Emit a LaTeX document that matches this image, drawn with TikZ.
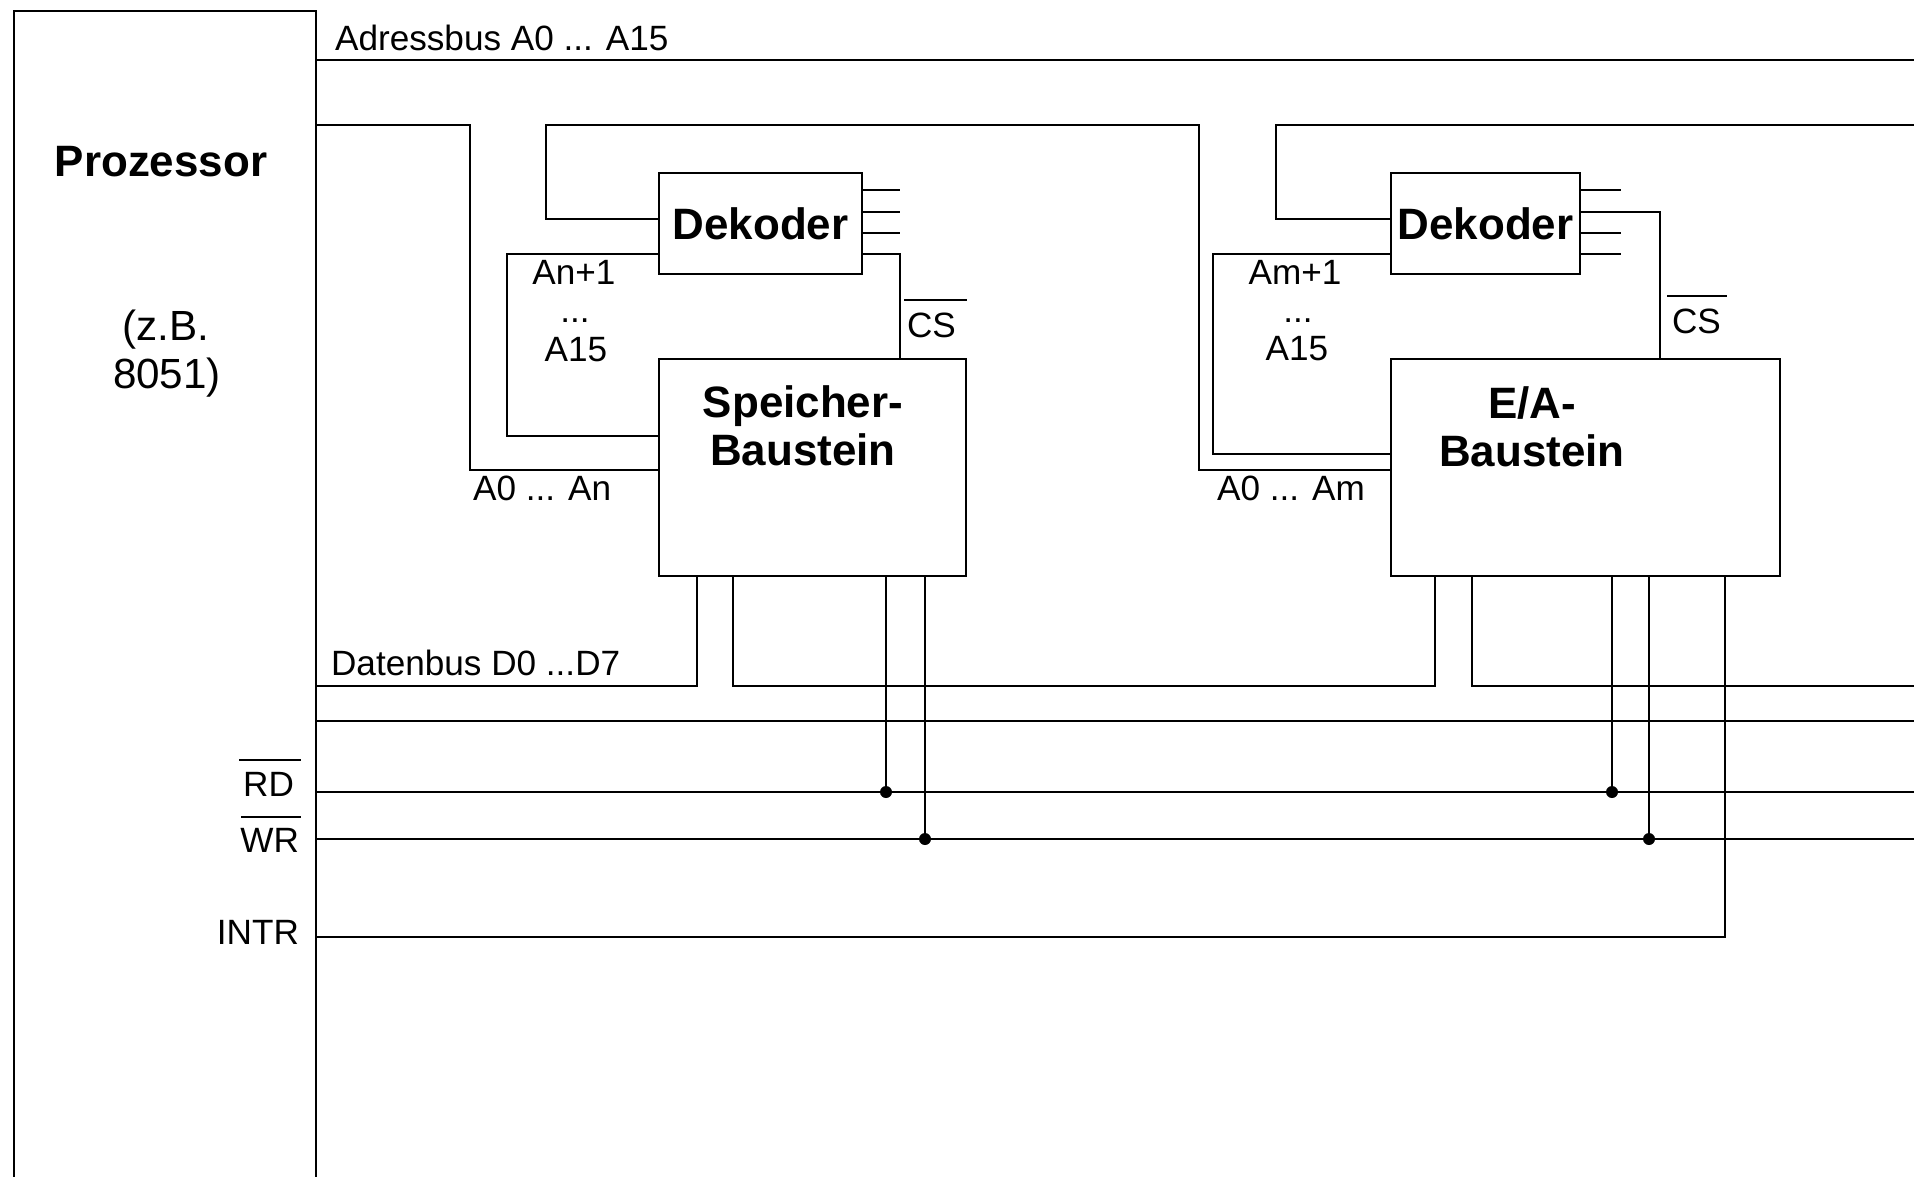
\documentclass[tikz,border=0pt]{standalone}
\usepackage{fontspec}
\setmainfont{Liberation Sans}
\begin{document}
\begin{tikzpicture}[x=0.1mm,y=-0.1mm, line width=0.22mm,
  box/.style={draw, rectangle, inner sep=0pt, anchor=north west},
  lbl/.style={inner sep=0pt, font=\fontsize{10}{12}\selectfont},
  big/.style={inner sep=0pt, font=\fontsize{12.5}{15}\selectfont\bfseries},
  mid/.style={inner sep=0pt, font=\fontsize{12}{14}\selectfont},
  jdot/.style={circle, fill, inner sep=0pt, minimum size=1.2mm}]
\useasboundingbox (0,0) rectangle (1914,1176);

% reference coordinates
\coordinate (yAB) at (0,60);
\coordinate (yA2) at (0,125);
\coordinate (yDin) at (0,219);
\coordinate (yHi) at (0,254);
\coordinate (yCS2) at (0,212);
\coordinate (yLoS) at (0,436);
\coordinate (yLoE) at (0,454);
\coordinate (yA0) at (0,470);
\coordinate (yDB) at (0,686);
\coordinate (yDB2) at (0,721);
\coordinate (yRD) at (0,792);
\coordinate (yWR) at (0,839);
\coordinate (yINT) at (0,937);
\coordinate (xR) at (1914,0);
\coordinate (xcs1) at (900,0);
\coordinate (xcs2) at (1660,0);
\coordinate (x697) at (697,0);
\coordinate (x733) at (733,0);
\coordinate (x1435) at (1435,0);
\coordinate (x1472) at (1472,0);
\coordinate (x1725) at (1725,0);

% boxes
\node[box, minimum width=30.2mm, minimum height=125mm] (proc) at (13,10) {};
\node[big, anchor=base] (pt) at (161,176) {Prozessor};
\node[mid, anchor=base] (pz1) at (166,340) {(z.B.};
\node[mid, anchor=base] (pz2) at (167,388) {8051)};

\node[box, big, minimum width=20.3mm, minimum height=10.1mm] (dek1) at (658,172) {Dekoder};
\node[box, minimum width=30.7mm, minimum height=21.7mm] (sp) at (658,358) {};
\node[big, anchor=base] (spt1) at (803,417) {Speicher-};
\node[big, anchor=base] (spt2) at (803,465) {Baustein};

\node[box, big, minimum width=18.9mm, minimum height=10.1mm] (dek2) at (1390,172) {Dekoder};
\node[box, minimum width=38.9mm, minimum height=21.7mm] (ea) at (1390,358) {};
\node[big, anchor=base] (eat1) at (1532,418) {E/A-};
\node[big, anchor=base] (eat2) at (1532,466) {Baustein};

% labels
\node[lbl, anchor=base west] (lab) at (334,50) {Adressbus A0 ... A15};
\node[lbl, anchor=base west] (la0n) at (472,500) {A0 ... An};
\node[lbl, anchor=base] (lan1) at (574,284) {An+1};
\node[lbl, anchor=base] (ldots1) at (575,322) {...};
\node[lbl, anchor=base] (la151) at (576,361) {A15};
\node[lbl, anchor=base west] (lcs1) at (906,337) {CS};
\draw ([shift={(-2,-11)}]lcs1.north west) -- ([shift={(10,-11)}]lcs1.north east);

\node[lbl, anchor=base] (lam1) at (1295,284) {Am+1};
\node[lbl, anchor=base] (ldots2) at (1298,322) {...};
\node[lbl, anchor=base] (la152) at (1297,360) {A15};
\node[lbl, anchor=base west] (la0m) at (1216,500) {A0 ... Am};
\node[lbl, anchor=base west] (lcs2) at (1671,333) {CS};
\draw ([shift={(-4,-11)}]lcs2.north west) -- ([shift={(5,-11)}]lcs2.north east);

\node[lbl, anchor=base west] (ldb) at (330,675) {Datenbus D0 ...D7};
\node[lbl, anchor=base east] (lrd) at (295,796) {RD};
\draw ([shift={(-3,-11)}]lrd.north west) -- ([shift={(6,-11)}]lrd.north east);
\node[lbl, anchor=base east] (lwr) at (300,852) {WR};
\draw ([shift={(2,-10)}]lwr.north west) -- ([shift={(1,-10)}]lwr.north east);
\node[lbl, anchor=base east] (lint) at (300,944) {INTR};

% address bus
\draw (proc.east |- yAB) -- (xR |- yAB);
\draw (proc.east |- yA2) -- (470,125) -- (470,470) -- (sp.west |- yA0);
\draw (dek1.west |- yDin) -- (546,219) -- (546,125) -- (1199,125) -- (1199,470) -- (ea.west |- yA0);
\draw (xR |- yA2) -- (1276,125) -- (1276,219) -- (dek2.west |- yDin);
\draw (dek1.west |- yHi) -- (507,254) -- (507,436) -- (sp.west |- yLoS);
\draw (dek2.west |- yHi) -- (1213,254) -- (1213,454) -- (ea.west |- yLoE);

% chip select
\draw (dek1.east |- yHi) -| (sp.north -| xcs1);
\draw (dek2.east |- yCS2) -| (ea.north -| xcs2);

% decoder stubs
\foreach \yy in {190,212,233} {
  \coordinate (s) at (0,\yy);
  \draw (dek1.east |- s) -- ++(37,0);
}
\foreach \yy in {190,233,254} {
  \coordinate (s) at (0,\yy);
  \draw (dek2.east |- s) -- ++(40,0);
}

% data bus
\draw (proc.east |- yDB) -- (697,686) -- (sp.south -| x697);
\draw (sp.south -| x733) -- (733,686) -- (1435,686) -- (ea.south -| x1435);
\draw (ea.south -| x1472) -- (1472,686) -- (xR |- yDB);
\draw (proc.east |- yDB2) -- (xR |- yDB2);

% control lines
\draw (proc.east |- yRD) -- (xR |- yRD);
\draw (proc.east |- yWR) -- (xR |- yWR);
\node[jdot] (j1) at (886,792) {};
\node[jdot] (j2) at (925,839) {};
\node[jdot] (j3) at (1612,792) {};
\node[jdot] (j4) at (1649,839) {};
\draw (sp.south -| j1) -- (j1.center);
\draw (sp.south -| j2) -- (j2.center);
\draw (ea.south -| j3) -- (j3.center);
\draw (ea.south -| j4) -- (j4.center);
\draw (proc.east |- yINT) -- (1725,937) -- (ea.south -| x1725);
\end{tikzpicture}
\end{document}
